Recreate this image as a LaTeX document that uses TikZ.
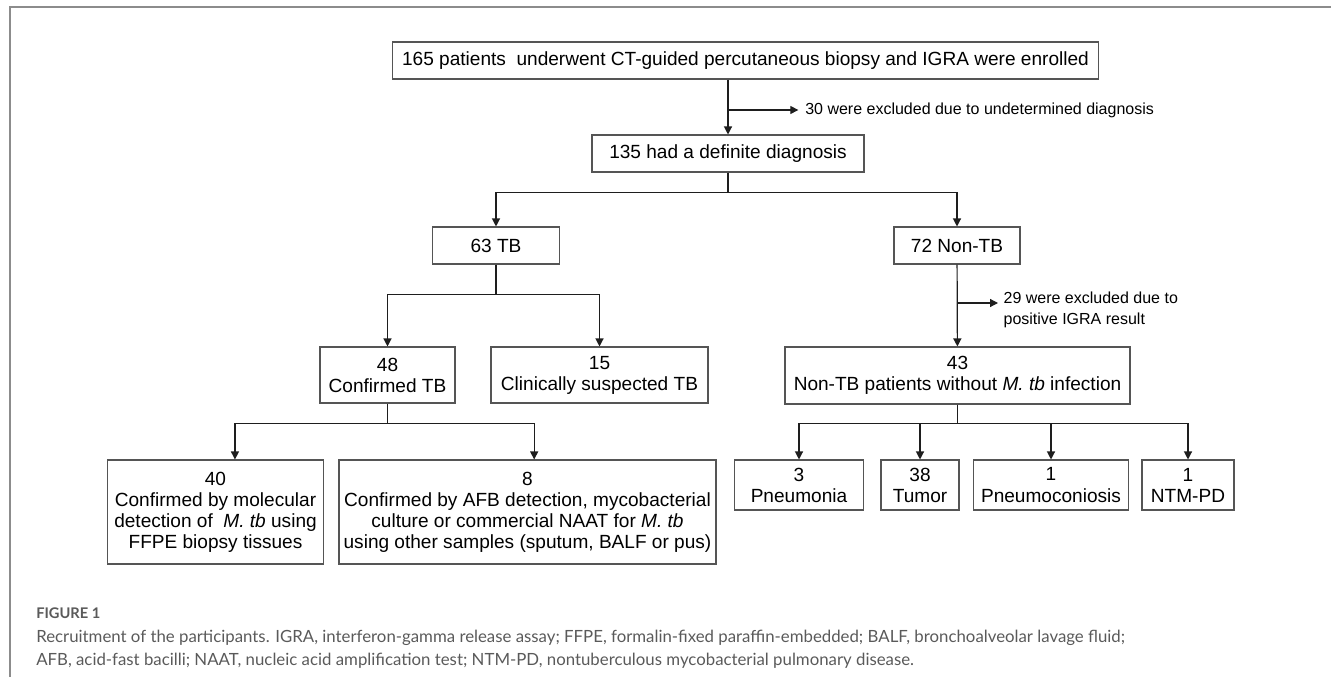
\documentclass[tikz,border=0pt]{standalone}
\usepackage{fontspec}
\setmainfont{Liberation Sans}
\newfontfamily\capfont{Lato}
\usetikzlibrary{arrows.meta,positioning}
\definecolor{BoxLine}{HTML}{555555}
\definecolor{FlowLine}{HTML}{1E1E1E}
\definecolor{FrameGray}{HTML}{8C8C8C}
\definecolor{CaptionGray}{HTML}{5A5A5A}

\begin{document}
\begin{tikzpicture}[x=0.75pt,y=-0.75pt,
    box/.style={draw=BoxLine,line width=.8pt,align=center,inner sep=0pt,
                font=\fontsize{14.3pt}{15.8pt}\selectfont},
    note/.style={align=left,inner sep=0pt,font=\fontsize{12pt}{15.5pt}\selectfont},
    flow/.style={-{Triangle[length=6pt,width=6pt]},draw=FlowLine,line width=.9pt}]
    \useasboundingbox (0,0) rectangle (1331,677);
    \draw[FrameGray,line width=1.5pt] (1331,7) -- (10,7) -- (10,677);

    \node[box,minimum width=530pt,minimum height=27.75pt] (enrolled) at (745.5,60.5)
        {165 patients\ \ underwent CT-guided percutaneous biopsy and IGRA were enrolled};
    \node[box,minimum width=204pt,minimum height=27.75pt] (definite) at (728,153.5)
        {135 had a definite diagnosis};
    \node[box,minimum width=95.25pt,minimum height=27.75pt] (tb) at (496,245.5) {63 TB};
    \node[box,minimum width=94.5pt,minimum height=27.75pt] (nontb) at (957,245.5) {72 Non-TB};
    \node[box,minimum width=101.25pt,minimum height=42pt] (confirmed) at (387.5,375)
        {48\\Confirmed TB};
    \node[box,minimum width=162.75pt,minimum height=42pt] (suspected) at (599.5,375)
        {15\\Clinically suspected TB};
    \node[box,minimum width=258.75pt,minimum height=42.75pt] (notinfected) at (957.5,375.5)
        {43\\Non-TB patients without \textit{M. tb} infection};
    \node[box,minimum width=162pt,minimum height=78pt] (molecular) at (215.5,512)
        {40\\Confirmed by molecular\\detection of \ \textit{M. tb} using\\FFPE biopsy tissues};
    \node[box,minimum width=282.75pt,minimum height=78pt] (afb) at (527.5,512)
        {8\\Confirmed by AFB detection, mycobacterial\\culture or commercial NAAT for \textit{M. tb}\\using other samples (sputum, BALF or pus)};
    \node[box,minimum width=96.75pt,minimum height=37.5pt] (pneumonia) at (799,485) {3\\Pneumonia};
    \node[box,minimum width=58.5pt,minimum height=37.5pt] (tumor) at (920,485) {38\\Tumor};
    \node[box,minimum width=116.25pt,minimum height=37.5pt] (coniosis) at (1051,485) {1\\Pneumoconiosis};
    \node[box,minimum width=69pt,minimum height=37.5pt] (ntmpd) at (1188,485) {1\\NTM-PD};

    \node[note,anchor=west] (undetermined) at (805,110) {30 were excluded due to undetermined diagnosis};
    \coordinate (cut29) at (998,303);
    \node[note,anchor=north west,right=4pt of cut29,yshift=-5pt] (positive)
        {29 were excluded due to\\positive IGRA result};

    \draw[flow] (enrolled.south -| definite.north) -- (definite.north);
    \draw[flow] (undetermined.west -| definite.north) -- ([xshift=-5pt]undetermined.west);
    \draw[flow] (definite.south) -- ++(0,20) -| (tb);
    \draw[flow] (definite.south) -- ++(0,20) -| (nontb);
    \draw[flow] (tb.south) -- ++(0,30) -| (confirmed);
    \draw[flow] (tb.south) -- ++(0,30) -| (suspected);
    \draw[flow] (nontb) -- (notinfected);
    \draw[flow] (nontb.south |- cut29) -- (cut29);
    \draw[flow] (confirmed.south) -- ++(0,20) -| ([xshift=14.6pt]molecular.north);
    \draw[flow] (confirmed.south) -- ++(0,20) -| ([xshift=5pt]afb.north);
    \draw[flow] (notinfected.south) -- ++(0,19) -| (pneumonia);
    \draw[flow] (notinfected.south) -- ++(0,19) -| (tumor);
    \draw[flow] (notinfected.south) -- ++(0,19) -| (coniosis);
    \draw[flow] (notinfected.south) -- ++(0,19) -| (ntmpd);

    \node[anchor=west,inner sep=0pt,text=CaptionGray,
          font={\fontsize{11pt}{13pt}\capfont\bfseries}] (figlabel) at (36,613) {FIGURE 1};
    \node[anchor=north west,align=left,inner sep=0pt,text=CaptionGray,
          font={\fontsize{12.6pt}{17.25pt}\capfont}] (caption) at (36,630)
        {Recruitment of the participants. IGRA, interferon-gamma release assay; FFPE, formalin-fixed paraffin-embedded; BALF, bronchoalveolar lavage fluid;\\
         AFB, acid-fast bacilli; NAAT, nucleic acid amplification test; NTM-PD, nontuberculous mycobacterial pulmonary disease.};
\end{tikzpicture}
\end{document}
